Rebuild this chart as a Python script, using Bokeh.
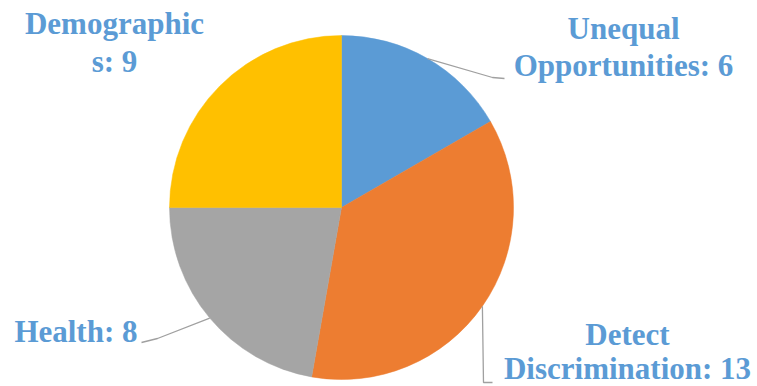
import math
from bokeh.plotting import figure
from bokeh.models import Range1d, ColumnDataSource
from bokeh.core.properties import value
from bokeh.embed import file_html
from bokeh.resources import INLINE

# ---- data ----
categories = ["Unequal Opportunities", "Detect Discrimination", "Health", "Demographics"]
values = [6, 13, 8, 9]
colors = ["#5b9bd5", "#ed7d31", "#a5a5a5", "#ffc000"]
label_breaks = [7, 6, None, 11]   # where each label text wraps

# ---- layout (page pixels) ----
W, H = 757, 386
CX, CY, R = 341, 207, 172
label_anchor = [(623, 28), (627, 334), (137, 331), (114, 23)]
line_gap = [37, 34, 0, 38]
label_align = ["center", "center", "right", "center"]
leader_bends = [[(492, 77), (504, 78)], [(483, 382), (492, 382)], [(157, 338), (141, 342)], None]
TEXT_COLOR = "#5b9bd5"
LEADER_COLOR = "#a0a0a0"


def Y(py):
    return H - py


p = figure(width=W, height=H, output_backend="svg", toolbar_location=None,
           x_range=Range1d(0, W), y_range=Range1d(0, H),
           x_axis_location=None, y_axis_location=None, min_border=0)
p.grid.visible = False
p.outline_line_color = None
p.background_fill_color = "white"
p.border_fill_color = "white"

total = sum(values)
starts, ends, mids = [], [], []
cum = 0
for v in values:
    s = cum / total
    cum += v
    e = cum / total
    starts.append(math.pi / 2 - 2 * math.pi * e)
    ends.append(math.pi / 2 - 2 * math.pi * s)
    mids.append(math.pi / 2 - 2 * math.pi * (s + e) / 2)

src = ColumnDataSource(dict(start=starts, end=ends, color=colors, cat=categories, val=values))
p.wedge(x=CX, y=Y(CY), radius=R, start_angle="start", end_angle="end",
        fill_color="color", line_color="color", line_width=0.5, source=src)

# leader lines
for i, bends in enumerate(leader_bends):
    if not bends:
        continue
    xs = [CX + R * math.cos(mids[i])]
    ys = [Y(CY) + R * math.sin(mids[i])]
    for bx, by in bends:
        xs.append(bx)
        ys.append(Y(by))
    p.line(xs, ys, line_color=LEADER_COLOR, line_width=1.3)

# labels
tx, ty, tt, ta = [], [], [], []
for i, (cat, val) in enumerate(zip(categories, values)):
    label = f"{cat}: {val}"
    b = label_breaks[i]
    lines = [label] if b is None else [label[:b].strip(), label[b:].strip()]
    ax, ay = label_anchor[i]
    for j, ln in enumerate(lines):
        tx.append(ax)
        ty.append(Y(ay + j * line_gap[i]))
        tt.append(ln)
        ta.append(label_align[i])

tsrc = ColumnDataSource(dict(x=tx, y=ty, text=tt, align=ta))
p.text(x="x", y="y", text="text", source=tsrc, text_align="align",
       text_baseline="alphabetic", text_font=value("Liberation Serif"),
       text_font_style="bold", text_font_size="31px", text_color=TEXT_COLOR)

open("out.html", "w").write(file_html(p, INLINE))
